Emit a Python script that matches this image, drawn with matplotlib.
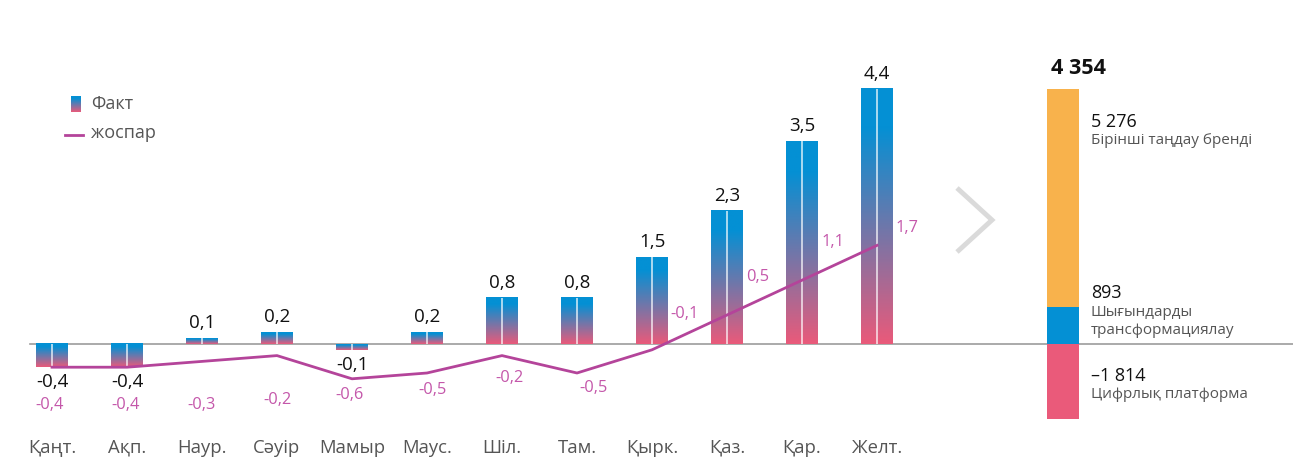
import numpy as np
import matplotlib
matplotlib.use("Agg")
import matplotlib.pyplot as plt
from matplotlib.colors import LinearSegmentedColormap
from matplotlib.patches import Rectangle

plt.rcParams['font.family'] = ['Open Sans', 'DejaVu Sans']

# data
months = ['Қаңт.', 'Ақп.', 'Наур.', 'Сәуір', 'Мамыр', 'Маус.', 'Шіл.',
          'Там.', 'Қырк.', 'Қаз.', 'Қар.', 'Желт.']
fact = [-0.4, -0.4, 0.1, 0.2, -0.1, 0.2, 0.8, 0.8, 1.5, 2.3, 3.5, 4.4]
plan = [-0.4, -0.4, -0.3, -0.2, -0.6, -0.5, -0.2, -0.5, -0.1, 0.5, 1.1, 1.7]

total = 4354
parts = [893, 5276]               # stacked upwards: blue, orange
parts_neg = -1814
part_labels = ['5 276', '893', '–1 814']
part_names = ['Бірінші таңдау бренді', 'Шығындарды\nтрансформациялау',
              'Цифрлық платформа']

BLUE = '#0490d4'
PINK = '#ea5a7a'
ORANGE = '#f8b24c'
LINE = '#b4449a'
PLAN_TXT = '#c457aa'
GREY_TXT = '#555555'

W, H = 1293, 459
fig = plt.figure(figsize=(W / 100, H / 100), dpi=100)
ax = fig.add_axes([0, 0, 1, 1])

# pixel mapping: Jan centre at x=52 px, 75 px per month; zero at y=344 px, 58 px per unit
xlim = (-52 / 75, (W - 52) / 75)
ylim = (-(H - 344) / 58, 344 / 58)

cmap = LinearSegmentedColormap.from_list('fp', [(0, BLUE), (0.15, BLUE), (1, PINK)])
grad = np.linspace(0, 1, 256).reshape(-1, 1)

bw = 32 / 75
x = np.arange(len(months))
for xi, v in zip(x, fact):
    ax.imshow(grad, cmap=cmap, extent=(xi - bw / 2, xi + bw / 2, min(0, v), max(0, v)),
              origin='upper', aspect='auto', interpolation='bilinear', zorder=2)
    ax.add_patch(Rectangle((xi - 1 / 75, min(0, v)), 2 / 75, abs(v), color='white',
                           alpha=0.65, lw=0, zorder=3))
    if v >= 0:
        ax.annotate(f'{v:.1f}'.replace('.', ','), (xi, v), xytext=(0, 6),
                    textcoords='offset pixels', ha='center', va='bottom',
                    fontsize=13.5, color='#111111', zorder=5)
    else:
        ax.annotate(f'{v:.1f}'.replace('.', ','), (xi, v), xytext=(0, -6),
                    textcoords='offset pixels', ha='center', va='top',
                    fontsize=13.5, color='#111111', zorder=5)

# zero line
ax.plot([(30 - 52) / 75, xlim[1]], [0, 0], color='#9c9c9c', lw=1.2, zorder=1)

# plan line
ax.plot(x, plan, color=LINE, lw=2, zorder=4, solid_joinstyle='round')
plan_off = [(-2, -38), (-1, -38), (0, -44), (1, -44), (-2, -16), (6, -17),
            (8, -22), (17, -15), (33, 36), (31, 38), (31, 38), (30, 17)]
for xi, v, off in zip(x, plan, plan_off):
    ax.annotate(f'{v:.1f}'.replace('.', ','), (xi, v), xytext=off,
                textcoords='offset pixels', ha='center', va='center',
                fontsize=11.8, color=PLAN_TXT, zorder=5)

# month labels
for xi, m in zip(x, months):
    ax.text(xi, ylim[0] + (H - 448) / 58, m, ha='center', va='center',
            fontsize=13.3, color=GREY_TXT)

# legend
lx0, lx1 = (71 - 52) / 75, (81 - 52) / 75
ax.imshow(grad, cmap=cmap,
          extent=(lx0, lx1, (344 - 112) / 58, (344 - 96) / 58), origin='upper',
          aspect='auto', zorder=2)
ax.plot([(65 - 52) / 75, (83 - 52) / 75], [(344 - 135) / 58] * 2, color=LINE, lw=2)
ax.text((91 - 52) / 75, (344 - 104) / 58, 'Факт', va='center', fontsize=13, color=GREY_TXT)
ax.text((91 - 52) / 75, (344 - 133) / 58, 'жоспар', va='center', fontsize=13, color=GREY_TXT)

# chevron
ax.plot([(957 - 52) / 75, (992 - 52) / 75, (957 - 52) / 75],
        [(344 - 188) / 58, (344 - 220) / 58, (344 - 252) / 58],
        color='#dadada', lw=3.5, solid_joinstyle='miter', solid_capstyle='butt')

ax.set_xlim(*xlim)
ax.set_ylim(*ylim)
ax.axis('off')

# right stacked bar on its own scale (41.3 px per 1000)
ax2 = fig.add_axes([0, 0, 1, 1])
k = 58 / 0.04133
ax2.set_xlim(*xlim)
ax2.set_ylim(ylim[0] * k, ylim[1] * k)
ax2.axis('off')
rx = (1063 - 52) / 75
ax2.bar(rx, parts[0], width=bw, color=BLUE, lw=0)
ax2.bar(rx, parts[1], bottom=parts[0], width=bw, color=ORANGE, lw=0)
ax2.bar(rx, parts_neg, width=bw, color=PINK, lw=0)

tx = (1091 - 52) / 75
ax2.text((1051 - 52) / 75, (344 - 68) / 58 * k, f'{total:,}'.replace(',', ' '),
         fontsize=15.5, fontweight='bold', va='center', color='#111111')
for lab, name, yl, yn in zip(part_labels, part_names, [122, 293, 376], [140, 321.5, 395]):
    ax2.text(tx, (344 - yl) / 58 * k, lab, fontsize=13, va='center', color='#111111')
    ax2.text(tx, (344 - yn) / 58 * k, name, fontsize=11, va='center', color=GREY_TXT,
             linespacing=1.2)

fig.savefig('out.png', dpi=100)
